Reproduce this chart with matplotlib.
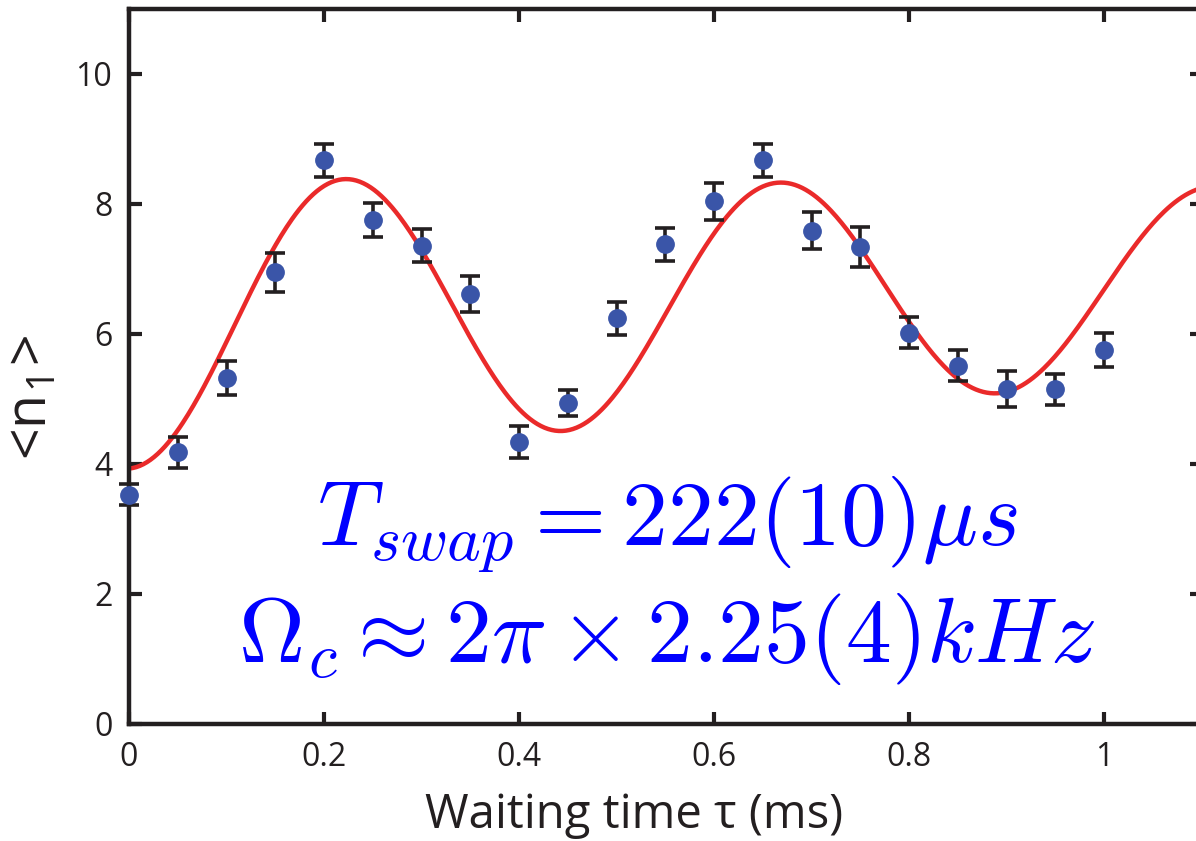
import numpy as np
import matplotlib
matplotlib.use("Agg")
import matplotlib.pyplot as plt

# Measured mean phonon number vs waiting time
tau_ms = [0.00, 0.05, 0.10, 0.15, 0.20, 0.25, 0.30, 0.35, 0.40, 0.45, 0.50,
          0.55, 0.60, 0.65, 0.70, 0.75, 0.80, 0.85, 0.90, 0.95, 1.00]
n1_mean = [3.53, 4.18, 5.32, 6.95, 8.67, 7.76, 7.36, 6.62, 4.34, 4.94, 6.24,
           7.38, 8.04, 8.67, 7.59, 7.34, 6.02, 5.51, 5.15, 5.15, 5.75]
n1_err = [0.16, 0.24, 0.26, 0.30, 0.26, 0.26, 0.26, 0.28, 0.24, 0.20, 0.25,
          0.25, 0.28, 0.26, 0.28, 0.31, 0.24, 0.24, 0.28, 0.24, 0.26]

# Fit parameters: offset + drift, amplitude with linear decay, period (ms)
fit_offset = 6.17
fit_drift = 0.59
fit_amp0 = 2.24
fit_amp_decay = 0.71
fit_period = 0.446

xticks = [0, 0.2, 0.4, 0.6, 0.8, 1.0]
xtick_labels = ["0", "0.2", "0.4", "0.6", "0.8", "1"]
yticks = [0, 2, 4, 6, 8, 10]

plt.rcParams["font.family"] = ["Open Sans", "DejaVu Sans"]
plt.rcParams["mathtext.fontset"] = "cm"

W, H, DPI = 1196, 841, 100
fig = plt.figure(figsize=(W / DPI, H / DPI), dpi=DPI)
ax = fig.add_axes([129 / W, 1 - 724 / H, 1072.5 / W, 715 / H])

t = np.linspace(0, 1.1, 600)
fit = (fit_offset + fit_drift * t
       - (fit_amp0 - fit_amp_decay * t) * np.cos(2 * np.pi * t / fit_period))
ax.plot(t, fit, color="#ea2a2a", lw=3.2, zorder=2)

ax.errorbar(tau_ms, n1_mean, yerr=n1_err, fmt="o", ms=12.5,
            mfc="#3a55a8", mec="#3a55a8", ecolor="#231f20", elinewidth=2.6,
            capsize=7.5, capthick=2.6, zorder=3, clip_on=False)

ax.set_xlim(0, 1.1)
ax.set_ylim(0, 11)
ax.set_xticks(xticks)
ax.set_xticklabels(xtick_labels)
ax.set_yticks(yticks)

for s in ax.spines.values():
    s.set_linewidth(3.2)
    s.set_color("#231f20")
ax.tick_params(direction="in", length=9, width=3, color="#231f20",
               top=True, right=True, labelsize=23, labelcolor="#231f20")
ax.tick_params(axis="x", pad=12)
ax.tick_params(axis="y", pad=12)

ax.set_xlabel("Waiting time τ (ms)", fontsize=34, color="#231f20")
ax.xaxis.set_label_coords(0.471, -0.095)
ax.xaxis.label.set_va("top")
ax.set_ylabel("<n$_\\mathregular{1}$>", fontsize=40, color="#231f20")
ax.yaxis.set_label_coords(-0.064, 0.456)

fig.text(667 / W, 1 - 544 / H, r"$T_{swap} = 222(10)\mu s$",
         fontsize=66, color="#0000ff", ha="center", va="baseline")
fig.text(667 / W, 1 - 662 / H, r"$\Omega_c \approx 2\pi \times 2.25(4)kHz$",
         fontsize=66, color="#0000ff", ha="center", va="baseline")

fig.savefig("out.png", dpi=DPI)
